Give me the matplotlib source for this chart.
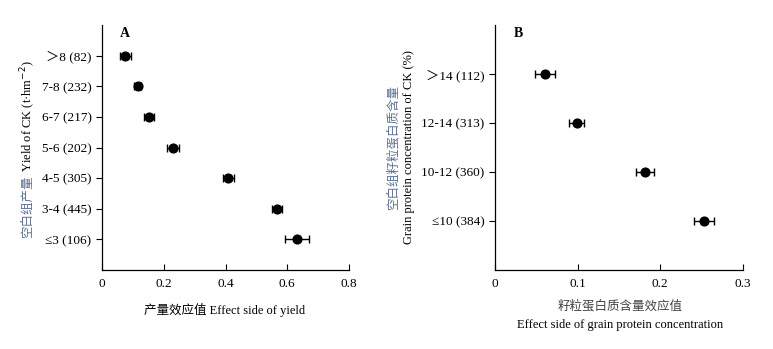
import matplotlib
matplotlib.use("Agg")
import matplotlib.pyplot as plt
import numpy as np

plt.rcParams["font.family"] = ["Liberation Serif", "Noto Sans CJK SC", "DejaVu Sans"]
plt.rcParams["font.size"] = 9
plt.rcParams["axes.linewidth"] = 0.9

# Panel A: yield of CK classes (n)
yield_classes = ["＞8 (82)", "7-8 (232)", "6-7 (217)", "5-6 (202)", "4-5 (305)", "3-4 (445)", "≤3 (106)"]
yield_effect = [0.075, 0.116, 0.151, 0.230, 0.409, 0.566, 0.633]
yield_err = [0.018, 0.011, 0.016, 0.018, 0.018, 0.016, 0.039]

# Panel B: grain protein concentration of CK classes (n)
protein_classes = ["＞14 (112)", "12-14 (313)", "10-12 (360)", "≤10 (384)"]
protein_effect = [0.0606, 0.0988, 0.182, 0.253]
protein_err = [0.0126, 0.009, 0.0108, 0.012]

ZH_COLOR = "#5f6f94"

fig = plt.figure(figsize=(7.73, 3.49), dpi=100)
ax_a = fig.add_axes([0.132, 0.2264, 0.3195, 0.7016])
ax_b = fig.add_axes([0.6404, 0.2264, 0.3206, 0.7016])


def draw_panel(ax, labels, values, errs, xmax, xticks, tag):
    pos = np.arange(len(labels))
    ax.errorbar(values, pos, xerr=errs, fmt="o", color="black", ms=6.3,
                elinewidth=1.0, capsize=3, capthick=1.0)
    ax.set_yticks(pos)
    ax.set_yticklabels(labels)
    ax.set_ylim(len(labels), -1)
    ax.set_xlim(0, xmax)
    ax.set_xticks(xticks)
    ax.set_xticklabels([f"{t:g}" for t in xticks])
    ax.tick_params(axis="x", direction="in", length=4, pad=6, labelsize=9.5)
    ax.tick_params(axis="y", direction="out", length=4, labelsize=9.5)
    ax.spines["top"].set_visible(False)
    ax.spines["right"].set_visible(False)
    ax.text(0.093, 0.965, tag, transform=ax.transAxes, fontweight="bold",
            fontsize=10, ha="center", va="center")


draw_panel(ax_a, yield_classes, yield_effect, yield_err, 0.8, [0, 0.2, 0.4, 0.6, 0.8], "A")
draw_panel(ax_b, protein_classes, protein_effect, protein_err, 0.3, [0, 0.1, 0.2, 0.3], "B")

# x labels
fig.text(0.290, 1 - 310 / 349, "产量效应值 Effect side of yield", ha="center", va="center", fontsize=9)
fig.text(0.802, 1 - 306 / 349, "籽粒蛋白质含量效应值", ha="center", va="center", fontsize=9,
         color="#444444")
fig.text(0.802, 1 - 325 / 349, "Effect side of grain protein concentration", ha="center",
         va="center", fontsize=9)

# y label of A: Chinese part coloured, English part continues above it
zh_a = fig.text(28 / 773, 1 - 238 / 349, "空白组产量", rotation=90, ha="center", va="bottom",
                fontsize=9, color=ZH_COLOR)
en_a = fig.text(28 / 773, 0.5, "Yield of CK (t·hm$^{-2}$)", rotation=90, ha="center",
                va="bottom", fontsize=9)
fig.canvas.draw()
bb = zh_a.get_window_extent(fig.canvas.get_renderer())
en_a.set_position((28 / 773, (bb.y1 + 3) / fig.bbox.height))

# y label of B on two lines
fig.text(393 / 773, 1 - 147 / 349, "空白组籽粒蛋白质含量", rotation=90, ha="center", va="center",
         fontsize=9, color=ZH_COLOR)
fig.text(409 / 773, 1 - 147 / 349, "Grain protein concentration of CK (%)", rotation=90,
         ha="center", va="center", fontsize=9)

fig.savefig("out.png", dpi=100)
